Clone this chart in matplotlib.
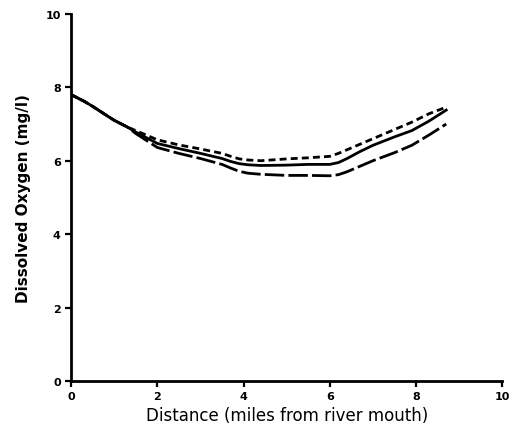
import numpy as np
import matplotlib
matplotlib.use("Agg")
import matplotlib.pyplot as plt

# distance (miles from river mouth)
dist = [0.0, 0.3, 0.5, 0.8, 1.0, 1.3, 1.5, 2.0, 2.5, 3.0, 3.5, 3.7, 3.9, 4.1, 4.4, 5.0, 5.5, 6.0, 6.2, 6.4, 6.7, 7.0, 7.5, 7.9, 8.3, 8.7]

# dissolved oxygen (mg/l), three conditions
do_upper = [7.8, 7.62, 7.48, 7.25, 7.1, 6.92, 6.82, 6.57, 6.43, 6.32, 6.2, 6.12, 6.05, 6.02, 6.0, 6.05, 6.08, 6.12, 6.2, 6.3, 6.45, 6.6, 6.85, 7.05, 7.28, 7.46]
do_mid = [7.8, 7.62, 7.48, 7.25, 7.1, 6.92, 6.78, 6.47, 6.33, 6.2, 6.06, 5.98, 5.92, 5.89, 5.87, 5.88, 5.9, 5.9, 5.95, 6.06, 6.25, 6.42, 6.65, 6.82, 7.08, 7.38]
do_lower = [7.8, 7.62, 7.48, 7.25, 7.1, 6.92, 6.74, 6.36, 6.2, 6.06, 5.9, 5.8, 5.71, 5.66, 5.63, 5.6, 5.6, 5.59, 5.62, 5.7, 5.85, 6.0, 6.22, 6.42, 6.7, 7.0]

fig = plt.figure(figsize=(5.12, 4.39), dpi=100)
ax = fig.add_axes([0.139, 0.13, 0.842, 0.836])

ax.plot(dist, do_upper, color="black", lw=2.0, ls=(0, (2.5, 1.5)))
ax.plot(dist, do_mid, color="black", lw=2.0, ls="-")
ax.plot(dist, do_lower, color="black", lw=2.0, ls=(0, (7, 1.5)))

ax.set_xlim(0, 10)
ax.set_ylim(0, 10)
ax.set_xticks([0, 2, 4, 6, 8, 10])
ax.set_yticks([0, 2, 4, 6, 8, 10])
for s in ["top", "right"]:
    ax.spines[s].set_visible(False)
for s in ["left", "bottom"]:
    ax.spines[s].set_linewidth(2.0)
ax.tick_params(direction="out", length=4, width=1.6, labelsize=8)
for lbl in ax.get_xticklabels() + ax.get_yticklabels():
    lbl.set_fontweight("bold")

ax.set_xlabel("Distance (miles from river mouth)", fontsize=12, labelpad=3)
ax.set_ylabel("Dissolved Oxygen (mg/l)", fontsize=11, fontweight="bold", labelpad=10)

fig.savefig("out.png", dpi=100)
